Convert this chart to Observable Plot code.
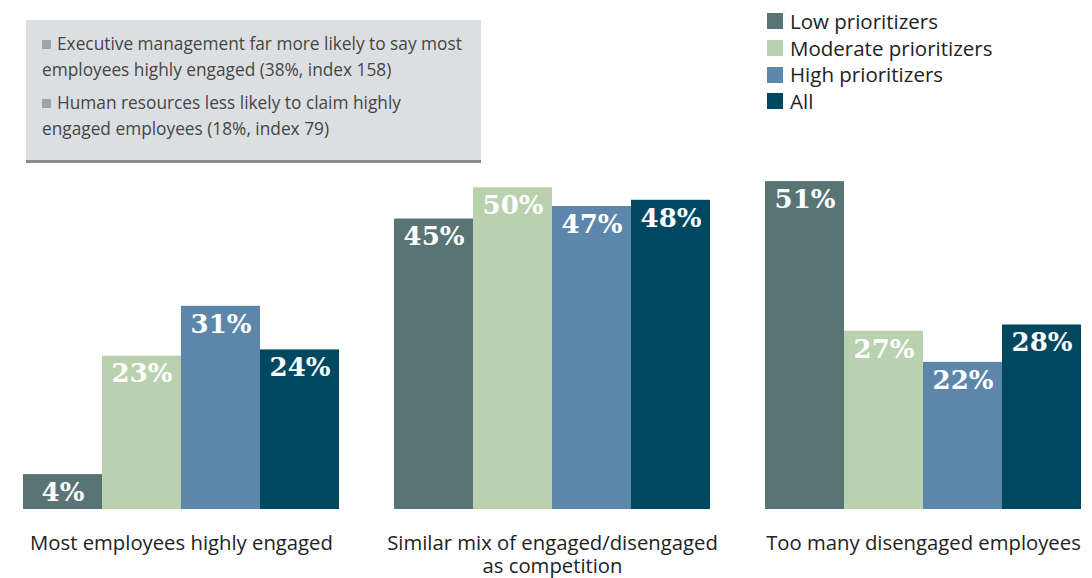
<!DOCTYPE html>
<html>
<head>
<meta charset="utf-8">
<script src="https://cdn.jsdelivr.net/npm/d3@7"></script>
<script src="https://cdn.jsdelivr.net/npm/@observablehq/plot@0.6"></script>
<style>
  html, body { margin: 0; padding: 0; background: #fff; }
  #wrap { position: relative; width: 1092px; height: 578px; overflow: hidden; font-family: "Open Sans", sans-serif; }
  #chart { position: absolute; left: 0; top: 0; }
  #note {
    position: absolute; left: 26px; top: 20px; width: 455px; height: 143px;
    box-sizing: border-box; background: #dcdfe2; border-bottom: 3px solid #8a8a8a;
    padding: 11px 12px 0 16px; color: #454545; font-size: 17.3px; line-height: 25.5px;
  }
  #note p { margin: 0 0 8px 0; }
  #note .b { display: inline-block; width: 9px; height: 9px; background: #a3a3a3; margin-right: 6px; vertical-align: 1px; }
  #legend { position: absolute; left: 767px; top: 8px; font-size: 20.5px; color: #222; }
  #legend .row { display: flex; align-items: center; height: 26.7px; line-height: 26.7px; }
  #legend .sw { width: 16px; height: 16px; margin-right: 7px; flex: none; }
</style>
</head>
<body>
<div id="wrap">
  <div id="chart"></div>
  <div id="note"></div>
  <div id="legend"></div>
</div>
<script>
// ---- Data ----
const groups = [
  "Most employees highly engaged",
  "Similar mix of engaged/disengaged as competition",
  "Too many disengaged employees"
];
const groupLabels = [
  "Most employees highly engaged",
  "Similar mix of engaged/disengaged\nas competition",
  "Too many disengaged employees"
];
const series = ["Low prioritizers", "Moderate prioritizers", "High prioritizers", "All"];
const lowValues = [4, 45, 51];
const moderateValues = [23, 50, 27];
const highValues = [31, 47, 22];
const allValues = [24, 48, 28];
const seriesColors = ["#587474", "#bad1af", "#5c86aa", "#004860"];
const notes = [
  "Executive management far more likely to say most employees highly engaged (38%, index 158)",
  "Human resources less likely to claim highly engaged employees (18%, index 79)"
];

// ---- Build table ----
const valueSets = [lowValues, moderateValues, highValues, allValues];
const data = [];
groups.forEach((g, gi) => {
  series.forEach((s, si) => {
    data.push({group: g, series: s, value: valueSets[si][gi]});
  });
});
const labelOf = new Map(groups.map((g, i) => [g, groupLabels[i]]));
const baseline = -1.6;

const plot = Plot.plot({
  width: 1092,
  height: 578,
  marginLeft: 22,
  marginRight: 10,
  marginTop: 125,
  marginBottom: 69,
  style: {fontFamily: "Open Sans, sans-serif", background: "transparent"},
  fx: {domain: groups, paddingInner: 0.148, paddingOuter: 0, label: null},
  x: {domain: series, padding: 0, axis: null},
  y: {domain: [baseline, 60], axis: null},
  color: {domain: series, range: seriesColors},
  marks: [
    Plot.barY(data, {fx: "group", x: "series", y1: baseline, y2: "value", fill: "series"}),
    Plot.text(data, {
      fx: "group", x: "series", y: "value", text: d => `${d.value}%`,
      dy: 18, fill: "white", fontFamily: "DejaVu Serif", fontWeight: "bold", fontSize: 26
    }),
    Plot.axisFx({
      anchor: "bottom", tickSize: 0, tickPadding: 24, fontSize: 20.3, lineHeight: 1.15,
      fill: "#222", label: null, tickFormat: d => labelOf.get(d)
    })
  ]
});
document.getElementById("chart").appendChild(plot);

// ---- Note box ----
const note = d3.select("#note");
notes.forEach(t => {
  const p = note.append("p");
  p.append("span").attr("class", "b");
  p.append("span").text(t);
});

// ---- Legend ----
const legend = d3.select("#legend");
series.forEach((s, i) => {
  const row = legend.append("div").attr("class", "row");
  row.append("div").attr("class", "sw").style("background", seriesColors[i]);
  row.append("span").text(s);
});
</script>
</body>
</html>
